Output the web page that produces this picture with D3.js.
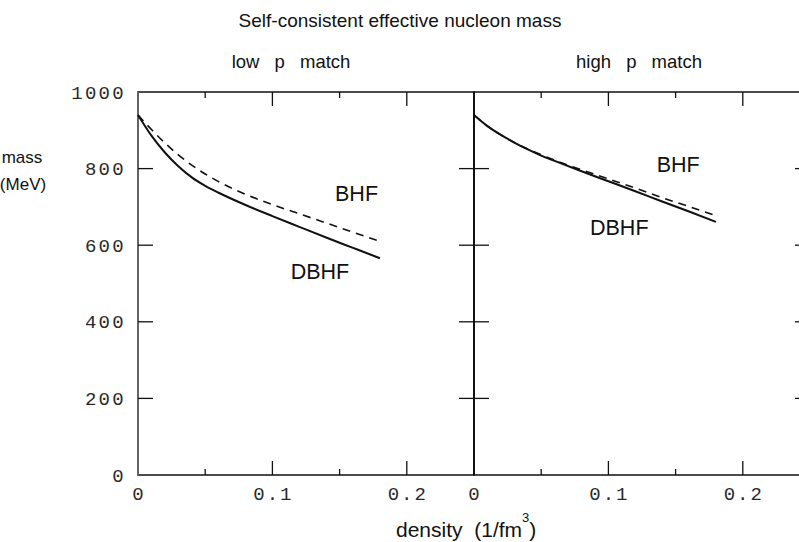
<!DOCTYPE html>
<html>
<head>
<meta charset="utf-8">
<script src="https://cdn.jsdelivr.net/npm/d3@7"></script>
<style>
  body { margin: 0; background: #fff; }
  svg { display: block; }
  .sans { font-family: Arial, "Liberation Sans", sans-serif; fill: #111; }
  .mono { font-family: "Liberation Mono", "DejaVu Sans Mono", monospace; fill: #2a2a2a; }
</style>
</head>
<body>
<svg id="chart" width="799" height="542"></svg>
<script>
// data
const density = [0, 0.01, 0.02, 0.03, 0.04, 0.05, 0.06, 0.08, 0.10, 0.12, 0.14, 0.16, 0.18];
const lowDBHF = [940, 886, 842, 806, 777, 755, 737, 705, 676, 648, 620, 593, 566];
const lowBHF  = [940, 902, 867, 836, 809, 786, 766, 733, 706, 682, 658, 634, 610];
const highDBHF = [940, 911, 888, 868, 850, 834, 820, 793, 767, 741, 714, 688, 661];
const highBHF  = [940, 911, 888, 868, 851, 836, 822, 797, 773, 749, 724, 701, 677];
const yTicks = [0, 200, 400, 600, 800, 1000];
const xTicks = [0, 0.1, 0.2];
const panels = [
  { name: "low p match", left: 138, titleX: 291, dbhf: lowDBHF, bhf: lowBHF,
    bhfLabel: [0.1466, 716], dbhfLabel: [0.1136, 512] },
  { name: "high p match", left: 474, titleX: 639, dbhf: highDBHF, bhf: highBHF,
    bhfLabel: [0.1359, 790], dbhfLabel: [0.0863, 627] }
];

const svg = d3.select("#chart");
const plotTop = 92, plotBottom = 475, pw = 336;
const y = d3.scaleLinear().domain([0, 1000]).range([plotBottom, plotTop]);

svg.append("text").attr("class", "sans").attr("x", 400).attr("y", 27)
  .attr("text-anchor", "middle").attr("font-size", 19)
  .text("Self-consistent effective nucleon mass");

panels.forEach(function(p, i) {
  const x = d3.scaleLinear().domain([0, 0.25]).range([p.left, p.left + pw]);
  const g = svg.append("g");

  g.append("text").attr("class", "sans").attr("x", p.titleX).attr("y", 68)
    .attr("text-anchor", "middle").attr("font-size", 18.5).attr("word-spacing", 10)
    .text(p.name);

  // frame
  g.append("rect").attr("x", p.left).attr("y", plotTop).attr("width", pw).attr("height", plotBottom - plotTop)
    .attr("fill", "none").attr("stroke", "#111").attr("stroke-width", 1.5);
  g.append("line").attr("x1", p.left).attr("x2", p.left).attr("y1", plotTop).attr("y2", plotBottom)
    .attr("stroke", i ? "#111" : "#666").attr("stroke-width", i ? 2 : 1.8);

  // y ticks inward on both sides
  yTicks.slice(1, -1).forEach(function(v) {
    g.append("line").attr("x1", p.left).attr("x2", p.left + 15).attr("y1", y(v)).attr("y2", y(v))
      .attr("stroke", "#111").attr("stroke-width", 1.3);
    g.append("line").attr("x1", p.left + pw - 15).attr("x2", p.left + pw).attr("y1", y(v)).attr("y2", y(v))
      .attr("stroke", "#111").attr("stroke-width", 1.3);
  });

  // x ticks: major 0.1, minor 0.05
  d3.range(0.05, 0.25, 0.05).forEach(function(v, k) {
    const len = (k % 2 === 1) ? 14 : 6;
    g.append("line").attr("x1", x(v)).attr("x2", x(v)).attr("y1", plotTop).attr("y2", plotTop + len)
      .attr("stroke", "#111").attr("stroke-width", 1.3);
    g.append("line").attr("x1", x(v)).attr("x2", x(v)).attr("y1", plotBottom).attr("y2", plotBottom - len)
      .attr("stroke", "#111").attr("stroke-width", 1.3);
  });

  xTicks.forEach(function(v) {
    g.append("text").attr("class", "mono").attr("x", x(v) + 1).attr("y", 499.5)
      .attr("text-anchor", "middle").attr("font-size", 19).attr("letter-spacing", 2)
      .text(v === 0 ? "0" : d3.format(".1f")(v));
  });

  const line = d3.line().x(function(d) { return x(d[0]); }).y(function(d) { return y(d[1]); })
    .curve(d3.curveMonotoneX);
  g.append("path").datum(d3.zip(density, p.bhf)).attr("d", line)
    .attr("fill", "none").attr("stroke", "#111").attr("stroke-width", 1.6)
    .attr("stroke-dasharray", "8,6");
  g.append("path").datum(d3.zip(density, p.dbhf)).attr("d", line)
    .attr("fill", "none").attr("stroke", "#111").attr("stroke-width", 2);

  g.append("text").attr("class", "sans").attr("x", x(p.bhfLabel[0])).attr("y", y(p.bhfLabel[1]))
    .attr("font-size", 21.5).text("BHF");
  g.append("text").attr("class", "sans").attr("x", x(p.dbhfLabel[0])).attr("y", y(p.dbhfLabel[1]))
    .attr("font-size", 21.5).text("DBHF");
});

// y tick labels, left only
yTicks.forEach(function(v) {
  svg.append("text").attr("class", "mono").attr("x", 126).attr("y", y(v) + 6.5)
    .attr("text-anchor", "end").attr("font-size", 19).attr("letter-spacing", 2.3)
    .text(v);
});

svg.append("text").attr("class", "sans").attr("x", 22).attr("y", 163)
  .attr("text-anchor", "middle").attr("font-size", 17).text("mass");
svg.append("text").attr("class", "sans").attr("x", 23).attr("y", 190)
  .attr("text-anchor", "middle").attr("font-size", 17).text("(MeV)");

const xl = svg.append("text").attr("class", "sans").attr("x", 396).attr("y", 537)
  .attr("font-size", 21).style("white-space", "pre");
xl.append("tspan").text("density  (1/fm");
xl.append("tspan").attr("dy", -15).attr("font-size", 13).text("3");
xl.append("tspan").attr("dy", 15).text(")");
</script>
</body>
</html>
